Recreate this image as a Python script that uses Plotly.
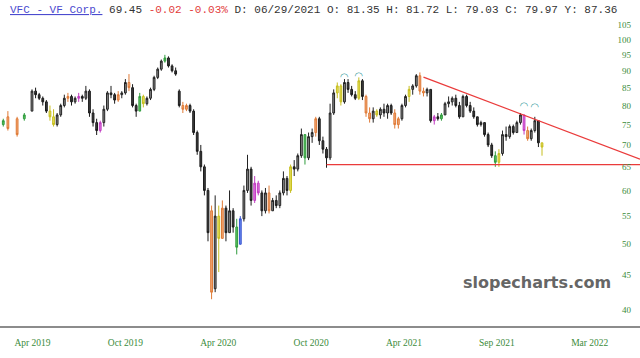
import math
import pandas as pd
import plotly.graph_objects as go

# ---------------- data (weekly bars) ----------------
start_date = "2019-04-01"

open_ = [78.5, 84, 83, 82, 81, 78.5, 77, 75, 77.5, 80, 82, 82.5, 81, 82, 82.5, 82, 84, 78, 75.5, 73.5,
         75.5, 79, 83.5, 83, 81.5, 83, 83.5, 86.5, 85, 80, 78.5, 82.5, 80.5, 82, 84.5, 88, 90.5, 93, 94, 91.5,
         90, 84, 80, 79, 80, 78.5, 73, 68.5, 65, 60, 56, 43, 55, 51, 56.5, 52, 56, 53, 50, 54.5,
         60, 64.5, 58, 61.5, 59.5, 56, 59.5, 56, 58, 57, 59.5, 62.5, 60, 65, 64.5, 67.5, 72.5, 67, 72, 73,
         76.5, 71, 69, 67, 78, 83.5, 85.5, 81, 86.5, 84.5, 83, 82, 87, 82.5, 78, 76.5, 78.5, 77.5, 79, 78,
         80, 78, 75, 76.5, 80, 82.5, 84.5, 85.5, 88.5, 84, 83.5, 84.5, 76, 77, 76.5, 77.5, 80.5, 81, 82, 80,
         77, 82.5, 80, 78.5, 77, 75, 75.5, 72.5, 70, 67.5, 66, 68, 72.5, 72, 74.5, 73, 75.5, 77.5, 73.5, 71.5,
         73.5, 76, 70.5]
high = [84.5, 85, 83.5, 82.5, 81.5, 80, 79, 78, 80.5, 83, 83.5, 83, 82.5, 83.5, 83, 85.5, 84.5, 79, 76.5, 76,
        80, 84, 85.5, 83.5, 84, 84, 87.5, 89, 86, 80.5, 83.5, 83, 82.5, 85, 88.5, 91, 93.5, 95, 94.5, 92,
        91, 84.5, 81, 80.5, 80.5, 79, 73.5, 70, 65.5, 60.5, 57, 59, 57, 58, 57, 60, 56.5, 54.5, 55, 61,
        67.7, 65, 63, 62, 60, 60.5, 61, 58.5, 59, 60, 64, 63, 65.5, 66.5, 68, 74, 72.5, 73, 74, 77,
        77, 72, 69.5, 80.5, 84.5, 86.5, 86, 87.5, 87.5, 85.5, 84, 88, 87.5, 83, 79.5, 79.5, 79, 79.5, 80.5, 80.5,
        80.5, 79, 77, 80.5, 83, 85.5, 86, 89, 89.5, 85, 85, 84.5, 77.5, 78, 78, 81, 82.5, 82.5, 83, 81,
        83, 83, 81, 79.5, 77, 76, 75.5, 73, 70.5, 68.5, 69, 73.5, 74.5, 75, 75, 76, 78, 77.5, 74.5, 74,
        77, 76, 70.5]
low = [78.5, 82, 81.5, 80, 78, 76, 74.5, 74.5, 77, 79.5, 81, 80, 80.5, 81, 81, 81.5, 77, 74.5, 72.4, 73,
       74.5, 78.5, 82, 80.5, 81, 82, 83, 84, 79.5, 77, 78.5, 79.5, 80, 81.5, 84, 87.5, 90, 92.5, 91, 89.5,
       88.5, 79.5, 78, 78.5, 78, 72.4, 67.7, 64, 59, 50.5, 41.5, 42.5, 45.5, 51, 50.5, 52, 52, 48.3, 50, 54,
       59.5, 57, 57.5, 59, 55, 55.5, 55.5, 56, 56.5, 56.5, 59, 59, 59.5, 63, 64, 67, 65.5, 66.5, 70.5, 72,
       70, 68, 64.8, 66.5, 77.5, 82, 80, 80.5, 83.5, 82.5, 81.5, 81.5, 81.5, 77, 75.5, 75.5, 77, 76.5, 77, 76.5,
       77.5, 74, 74, 76, 79.5, 81, 83, 85, 83, 82.5, 82.5, 75.5, 75, 76, 76, 77.5, 79.5, 80, 79.5, 76.5,
       77, 79.5, 78, 76.5, 74.5, 74.5, 72, 69.5, 67, 65, 65, 67.5, 71, 71.5, 72.5, 73, 75, 72.5, 71, 71,
       73, 69.5, 67.5]
close = [84, 83, 82, 81, 78.5, 77, 75, 77.5, 80, 82, 82.5, 81, 82, 82.5, 82, 84, 78, 75.5, 73.5, 75.5,
         79, 83.5, 83, 81.5, 83, 83.5, 86.5, 85, 80, 78.5, 82.5, 80.5, 82, 84.5, 88, 90.5, 93, 94, 91.5, 90,
         89, 80, 79, 80, 78.5, 73, 68.5, 65, 60, 52, 42.5, 55, 51, 56.5, 52, 56, 53, 49.5, 54.5, 60,
         64.5, 58, 61.5, 59.5, 56, 59.5, 56, 58, 57, 59.5, 62.5, 60, 65, 64.5, 67.5, 72.5, 67, 72, 73, 76.5,
         71, 69, 67, 78, 83.5, 85.5, 81, 86.5, 84.5, 83, 82, 87, 82.5, 78, 76.5, 78.5, 77.5, 79, 78, 80,
         78, 75, 76.5, 80, 82.5, 84.5, 85.5, 88.5, 84, 83.5, 84.5, 76, 77, 76.5, 77.5, 80.5, 81, 82, 80, 77,
         82.5, 80, 78.5, 77, 75, 75.5, 72.5, 70, 67.5, 66, 68, 72.5, 72, 74.5, 73, 75.5, 77.5, 73.5, 71.5, 73.5,
         76, 70.5, 69.5]

# a few sparse early bars
early_dates = ["2019-02-04", "2019-02-13", "2019-03-03", "2019-03-17"]
early_open = [75, 77, 76.5, 76.5]
early_high = [76.5, 78.5, 77, 78]
early_low = [74.5, 73.5, 72, 76]
early_close = [76, 74, 72.5, 77.5]
early_color = ["green", "orange", "orange", "green"]

# highlighted bars (index into weekly arrays)
orange_idx = [10, 24, 27, 42, 43, 50, 53, 66, 79, 93, 94, 101, 102, 108, 109, 138]
yellow_idx = [5, 6, 31, 52, 72, 85, 86, 91, 96, 105, 130, 142]
green_idx = [30, 37, 57, 76, 114, 129]
pink_idx = [13, 19, 62, 63, 112, 137]
blue_idx = [58]

# drawn lines
support_level = 65.5
support_start_idx = 82
trend_start_date = "2021-05-03"
trend_start_price = 88.1
trend_end_price = 66.7

# cup markers
arc_idx = [87, 91, 137, 140]
arc_price = [88.0, 88.2, 79.8, 79.4]

x_ticktext = ["Apr 2019", "Oct 2019", "Apr 2020", "Oct 2020", "Apr 2021", "Sep 2021", "Mar 2022"]
y_tickvals = [40, 45, 50, 55, 60, 65, 70, 75, 80, 85, 90, 95, 100, 105]

header = ('<span style="color:#4b4bcf;text-decoration:underline">VFC - VF Corp.</span> '
          '<span style="color:#333333">69.45</span> '
          '<span style="color:#e23b3b">-0.02 -0.03%</span> '
          '<span style="color:#333333">D: 06/29/2021 O: 81.35 H: 81.72 L: 79.03 C: 79.97 Y: 87.36</span>')

# ---------------- build ----------------
dates = list(pd.date_range(start_date, periods=len(close), freq="7D"))
D0 = pd.Timestamp(start_date)
px_days = 1.949
x_start = D0 - pd.Timedelta(days=32 * px_days)
x_end = D0 + pd.Timedelta(days=608 * px_days)
tickvals = [D0 + pd.Timedelta(days=1 + k * 181) for k in range(len(x_ticktext))]

palette = {
    "orange": ("#df7a36", "#f2a877"),
    "yellow": ("#c6be1e", "#e6df5c"),
    "green": ("#2f9c3d", "#62c262"),
    "pink": ("#c03bc0", "#df72df"),
    "blue": ("#3350cf", "#6a88ee"),
}
color_of = {}
for name, idxs in [("orange", orange_idx), ("yellow", yellow_idx), ("green", green_idx),
                   ("pink", pink_idx), ("blue", blue_idx)]:
    for i in idxs:
        color_of[i] = name

fig = go.Figure()


def add_candles(sel_x, o, h, l, c, inc_line, inc_fill, dec_line, dec_fill):
    fig.add_trace(go.Candlestick(
        x=sel_x, open=o, high=h, low=l, close=c,
        increasing=dict(line=dict(color=inc_line, width=1), fillcolor=inc_fill),
        decreasing=dict(line=dict(color=dec_line, width=1), fillcolor=dec_fill),
        hoverinfo="skip", showlegend=False, whiskerwidth=0,
    ))


# plain bars
plain = [i for i in range(len(close)) if i not in color_of]
add_candles([dates[i] for i in plain], [open_[i] for i in plain], [high[i] for i in plain],
            [low[i] for i in plain], [close[i] for i in plain],
            "#222222", "#8f8f8f", "#1a1a1a", "#3f3f3f")

# highlighted bars
for name, (lc, fc) in palette.items():
    sel = [i for i in range(len(close)) if color_of.get(i) == name]
    ex = [k for k in range(len(early_dates)) if early_color[k] == name]
    xs = [pd.Timestamp(early_dates[k]) for k in ex] + [dates[i] for i in sel]
    if not xs:
        continue
    o = [early_open[k] for k in ex] + [open_[i] for i in sel]
    h = [early_high[k] for k in ex] + [high[i] for i in sel]
    l = [early_low[k] for k in ex] + [low[i] for i in sel]
    c = [early_close[k] for k in ex] + [close[i] for i in sel]
    add_candles(xs, o, h, l, c, lc, fc, lc, fc)

# support and trend lines
fig.add_trace(go.Scatter(x=[dates[support_start_idx], x_end], y=[support_level, support_level],
                         mode="lines", line=dict(color="#ea3b3b", width=1.2),
                         hoverinfo="skip", showlegend=False))
fig.add_trace(go.Scatter(x=[pd.Timestamp(trend_start_date), x_end], y=[trend_start_price, trend_end_price],
                         mode="lines", line=dict(color="#ea3b3b", width=1.2),
                         hoverinfo="skip", showlegend=False))

# cup arcs
fig.add_trace(go.Scatter(x=[dates[i] for i in arc_idx], y=arc_price, mode="text",
                         text=["◠"] * len(arc_idx),
                         textfont=dict(family="DejaVu Sans", size=10, color="#3a9c9c"),
                         hoverinfo="skip", showlegend=False))

fig.update_layout(
    width=640, height=358,
    margin=dict(l=0, r=0, t=20, b=32),
    paper_bgcolor="white", plot_bgcolor="white",
    showlegend=False,
    xaxis=dict(
        type="date", range=[x_start, x_end], rangeslider=dict(visible=False),
        showgrid=False, zeroline=False, showline=True, linecolor="#8c8c8c", linewidth=2,
        tickmode="array", tickvals=tickvals, ticktext=x_ticktext, ticks="",
        ticklabelstandoff=7,
        tickfont=dict(family="Liberation Serif", size=9.5, color="#3b8b3b"),
    ),
    yaxis=dict(
        type="log", range=[math.log10(37.9), math.log10(106.9)],
        side="right", ticklabelposition="inside", ticklabelstandoff=6,
        showgrid=False, zeroline=False, showline=False, ticks="",
        tickmode="array", tickvals=y_tickvals, ticktext=[str(v) for v in y_tickvals],
        tickfont=dict(family="Liberation Serif", size=9, color="#3b8b3b"),
    ),
    annotations=[
        dict(text=header, xref="paper", yref="paper", x=8 / 640, y=(326 - 10) / 306,
             xanchor="left", yanchor="middle", showarrow=False,
             font=dict(family="Liberation Mono", size=11, color="#333333")),
        dict(text="<b>slopecharts.com</b>", xref="paper", yref="paper", x=537 / 640, y=(326 - 282) / 306,
             xanchor="center", yanchor="middle", showarrow=False,
             font=dict(family="DejaVu Sans", size=16, color="#666666")),
    ],
)

fig.write_html("out.html")
